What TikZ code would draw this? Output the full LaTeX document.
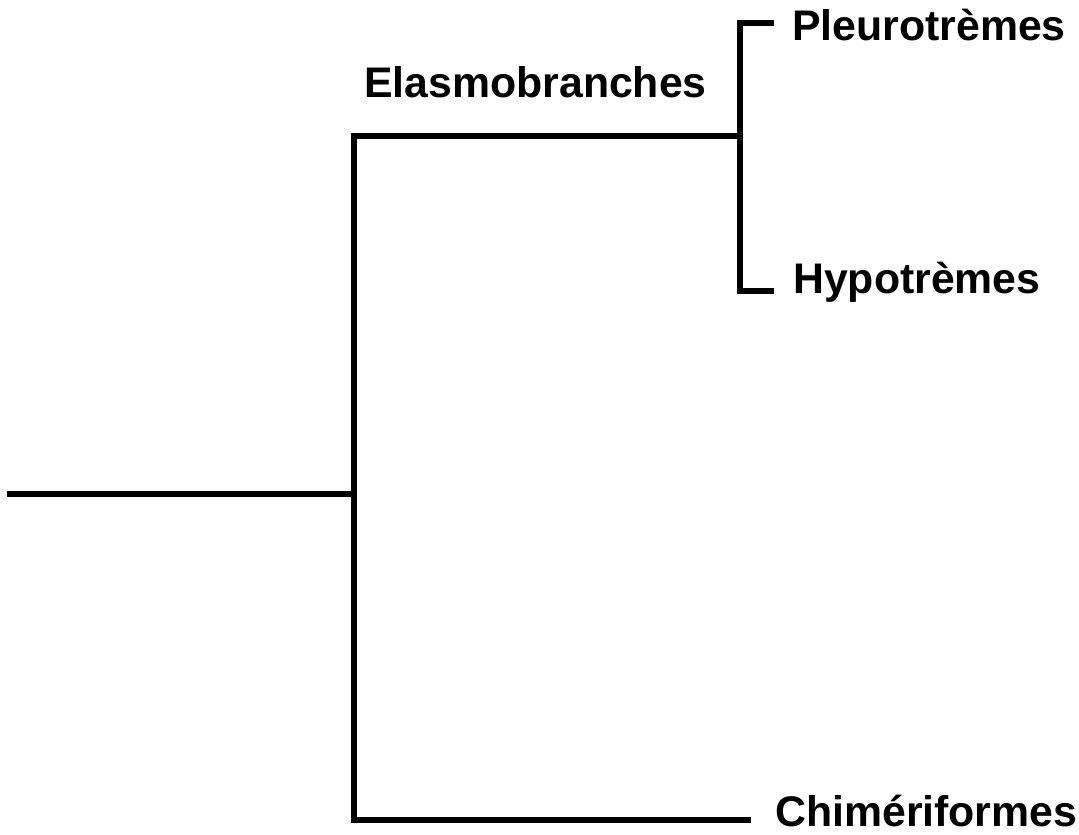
\documentclass[tikz,border=0pt]{standalone}
\usepackage{fontspec}
\setmainfont{Liberation Sans}
\begin{document}
\begin{tikzpicture}[x=1pt,y=-1pt,
  branch/.style={line width=5.5pt,line cap=rect,line join=miter},
  taxon/.style={anchor=base west,inner sep=0pt,font=\fontsize{42.8}{50}\selectfont\bfseries}]
\useasboundingbox (0,0) rectangle (1079,835);
\coordinate (root) at (10,494);
\coordinate (n1) at (354,494);
\coordinate (n1t) at (354,136);
\coordinate (n1b) at (354,820);
\coordinate (n2) at (740,136);
\coordinate (n2t) at (740,23);
\coordinate (n2b) at (740,291);
\coordinate (pl) at (771,23);
\coordinate (hy) at (771,291);
\coordinate (ch) at (748,820);
\node[taxon] (tpl) at (792,40) {Pleurotrèmes};
\node[taxon] (thy) at (793,293) {Hypotrèmes};
\node[taxon] (tel) at (364,97) {Elasmobranches};
\node[taxon] (tch) at (775,826) {Chimériformes};
\draw[branch] (root) -- (n1);
\draw[branch] (n2) -- (n1t) -- (n1b) -- (ch);
\draw[branch] (pl) -- (n2t) -- (n2b) -- (hy);
\end{tikzpicture}
\end{document}
